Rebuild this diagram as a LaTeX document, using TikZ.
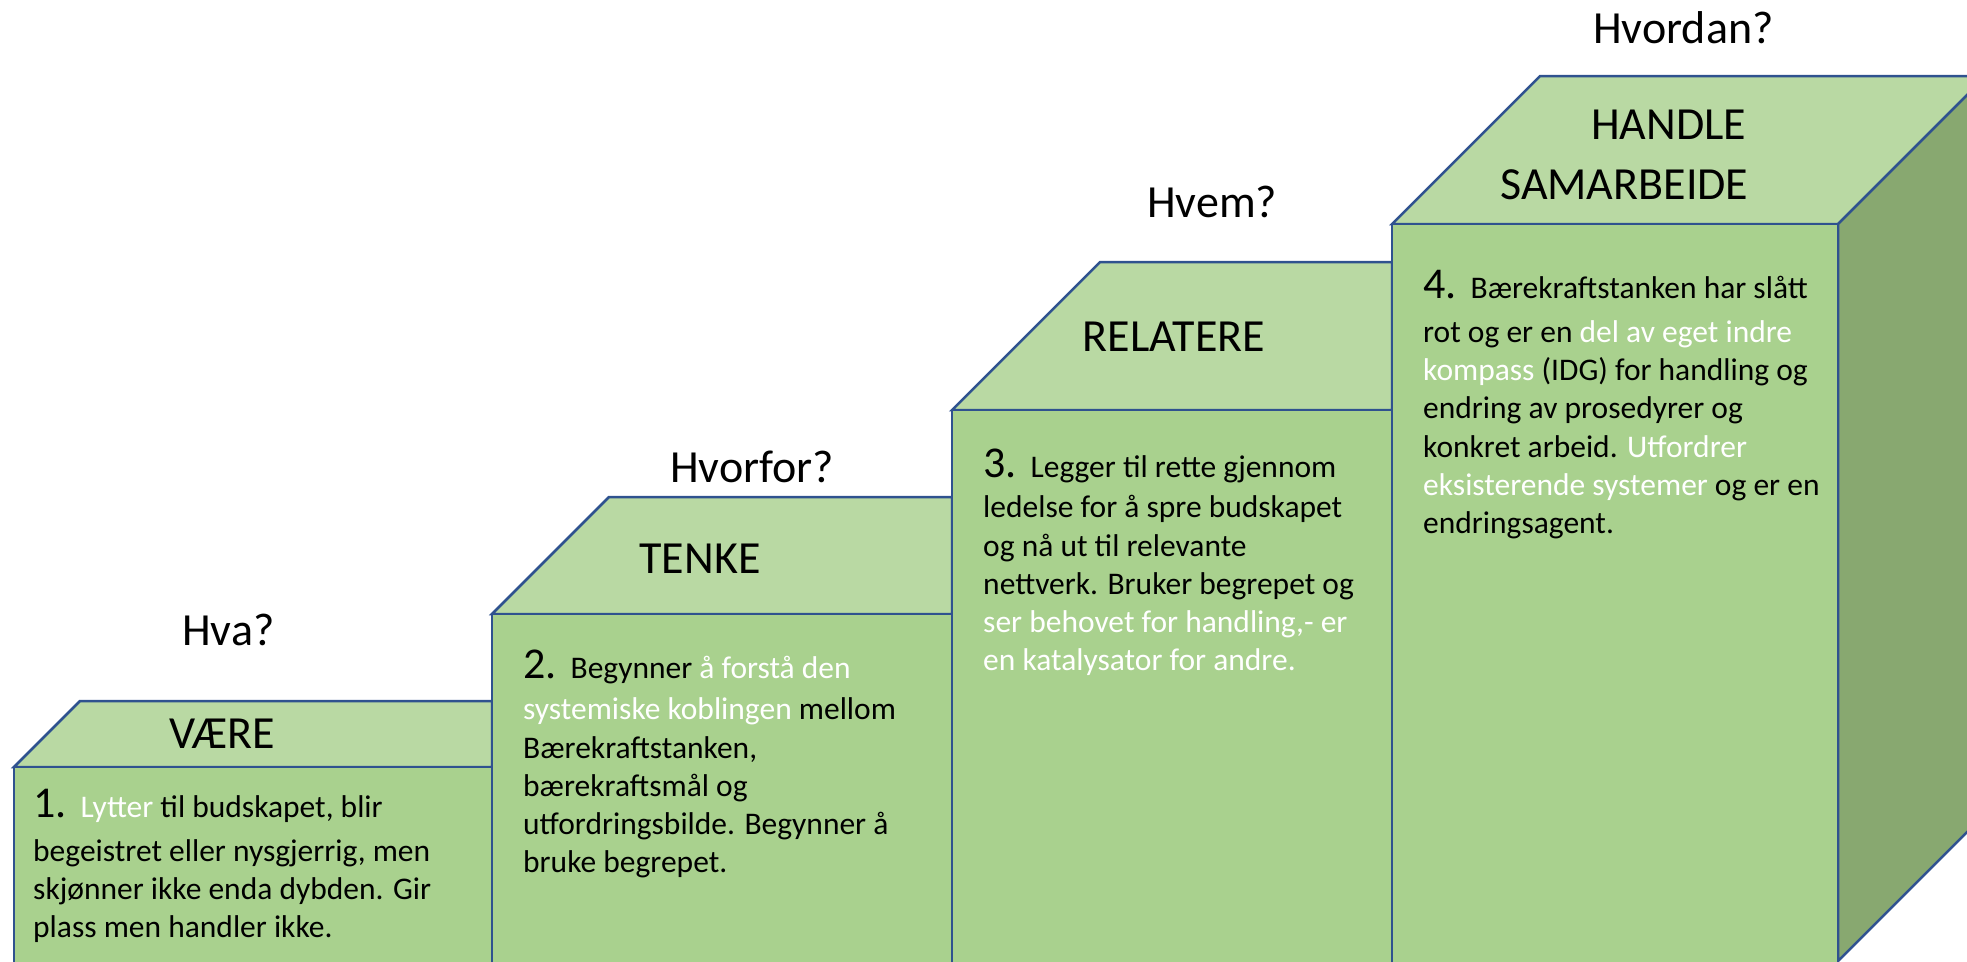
\documentclass[tikz,border=0pt]{standalone}
\usepackage{fontspec}
\setmainfont{Carlito}
\definecolor{toppgronn}{HTML}{B9D9A3}
\definecolor{frontgronn}{HTML}{A9D18E}
\definecolor{sidegronn}{HTML}{88A870}
\definecolor{kantbla}{HTML}{2F528F}
\newcommand{\hvit}[1]{\textcolor{white}{#1}}
\newcommand{\trinnnr}[1]{{\fontsize{44}{44}\selectfont #1.}\hspace{14pt}}
\begin{document}
\begin{tikzpicture}[x=1pt,y=-1pt,
  flate/.style={draw=kantbla,line width=2.5pt,line join=miter},
  spm/.style={anchor=base west,inner sep=0pt,font=\fontsize{46}{56}\selectfont},
  trinn/.style={anchor=base,inner sep=0pt,font=\fontsize{46}{60}\selectfont},
  tekst/.style={anchor=base west,inner sep=0pt,align=left,font=\fontsize{31.5}{38.3}\selectfont}]
  \useasboundingbox (0,0) rectangle (1967,961);
  \clip (0,0) rectangle (1967,961);
  % trinn 1-3: venstre/hoyre/topp/dybde
  \foreach \v/\h/\t/\d in {14/492/767/66, 492/952/614/117, 952/1392/410/148} {
    \draw[flate,fill=toppgronn] (\v,\t) -- ++(\d,-\d) -- (\h,\t-\d) -- (\h,\t) -- cycle;
    \draw[flate,fill=frontgronn] (\v,\t) rectangle (\h,975);
  }
  % trinn 4 med sideflate
  \draw[flate,fill=toppgronn] (1392,224) -- ++(148,-148) -- (1986,76) -- (1838,224) -- cycle;
  \draw[flate,fill=sidegronn] (1838,224) -- (1986,76) -- (1986,813) -- (1838,961) -- cycle;
  \draw[flate,fill=frontgronn] (1392,224) rectangle (1838,975);
  % spoersmaal
  \node[spm] (hva) at (182,645) {Hva?};
  \node[spm] (hvorfor) at (670,482) {Hvorfor?};
  \node[spm] (hvem) at (1147,217) {Hvem?};
  \node[spm] (hvordan) at (1593,43) {Hvordan?};
  % trinnavn (grunnlinja er siste linje)
  \node[trinn] (vaere) at (222,748) {VÆRE};
  \node[trinn] (tenke) at (700,573) {TENKE};
  \node[trinn] (relatere) at (1174,351) {RELATERE};
  \node[trinn,anchor=base west,align=left] (handle) at (1500,199) {\hspace*{91pt}HANDLE\\SAMARBEIDE};
  % beskrivelser
  \node[tekst] (tekst1) at (33,{817+6+3*38.3}) {\trinnnr{1}\hvit{Lytter} til budskapet, blir\\[6pt]
    begeistret eller nysgjerrig, men\\ skjønner ikke enda dybden. Gir\\ plass men handler ikke.};
  \node[tekst] (tekst2) at (523,{678+3.4+5*38.3}) {\trinnnr{2}Begynner \hvit{å forstå den}\\[3.4pt]
    \hvit{systemiske koblingen} mellom\\ Bærekraftstanken,\\ bærekraftsmål og\\
    utfordringsbilde. Begynner å\\ bruke begrepet.};
  \node[tekst] (tekst3) at (983,{477+2.4+5*38.3}) {\trinnnr{3}Legger til rette gjennom\\[2.4pt]
    ledelse for å spre budskapet\\ og nå ut til relevante\\ nettverk. Bruker begrepet og\\
    \hvit{ser behovet for handling,- er}\\ \hvit{en katalysator for andre.}};
  \node[tekst] (tekst4) at (1423,{298+6+6*38.3}) {\trinnnr{4}Bærekraftstanken har slått\\[6pt]
    rot og er en \hvit{del av eget indre}\\ \hvit{kompass} (IDG) for handling og\\
    endring av prosedyrer og\\ konkret arbeid. \hvit{Utfordrer}\\
    \hvit{eksisterende systemer} og er en\\ endringsagent.};
\end{tikzpicture}
\end{document}
